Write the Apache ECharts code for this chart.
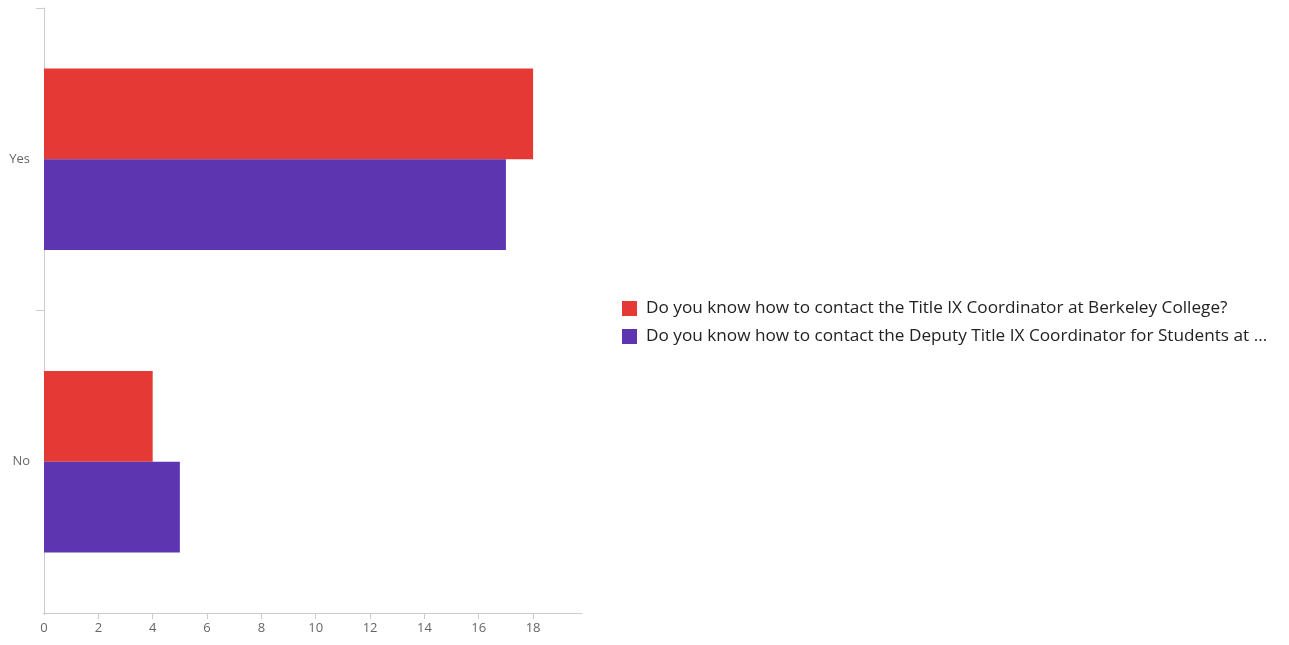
<!DOCTYPE html>
<html>
<head>
<meta charset="utf-8">
<script src="https://cdn.jsdelivr.net/npm/echarts@6/dist/echarts.min.js"></script>
<style>
html,body{margin:0;padding:0;background:#fff;}
#chart{width:1289px;height:645px;}
</style>
</head>
<body>
<div id="chart"></div>
<script>
const categories = ["Yes", "No"];
const seriesNames = [
  "Do you know how to contact the Title IX Coordinator at Berkeley College?",
  "Do you know how to contact the Deputy Title IX Coordinator for Students at ..."
];
const titleIXValues = [18, 4];
const deputyValues = [17, 5];
const xTicks = [0, 2, 4, 6, 8, 10, 12, 14, 16, 18];
const colors = ["#E53935", "#5E35B1"];

const chart = echarts.init(document.getElementById('chart'));
chart.setOption({
  animation: false,
  color: colors,
  legend: {
    orient: 'vertical',
    left: 622,
    top: 'middle',
    padding: 0,
    itemWidth: 15,
    itemHeight: 15,
    itemGap: 10,
    icon: 'rect',
    textStyle: { color: '#222', fontSize: 17.2, lineHeight: 18, fontFamily: 'Open Sans', padding: [0, 0, 0, 4] },
    data: seriesNames
  },
  grid: { left: 44, top: 8, right: 707, bottom: 32, containLabel: false },
  xAxis: {
    type: 'value',
    min: 0,
    max: 19.8,
    interval: 2,
    splitLine: { show: false },
    axisLine: { show: true, lineStyle: { color: '#ccc' } },
    axisTick: { show: true, length: 6, lineStyle: { color: '#ccc' } },
    axisLabel: {
      color: '#666', fontSize: 13, fontFamily: 'Open Sans', margin: 9,
      showMaxLabel: false,
      formatter: v => xTicks.includes(v) ? String(v) : ''
    }
  },
  yAxis: {
    type: 'category',
    inverse: true,
    data: categories,
    axisLine: { show: true, lineStyle: { color: '#ccc' } },
    axisTick: { show: true, length: 8, lineStyle: { color: '#ccc' } },
    axisLabel: { color: '#666', fontSize: 13, fontFamily: 'Open Sans', margin: 14 }
  },
  graphic: [
    { type: 'rect', left: 30, top: 609, shape: { width: 13, height: 9 }, style: { fill: '#fff' }, z: 100 },
    { type: 'rect', left: 41, top: 615, shape: { width: 6, height: 6 }, style: { fill: '#fff' }, z: 100 }
  ],
  series: [
    { name: seriesNames[0], type: 'bar', data: titleIXValues, barGap: '0%', barCategoryGap: '40%' },
    { name: seriesNames[1], type: 'bar', data: deputyValues, barGap: '0%', barCategoryGap: '40%' }
  ]
});
</script>
</body>
</html>
